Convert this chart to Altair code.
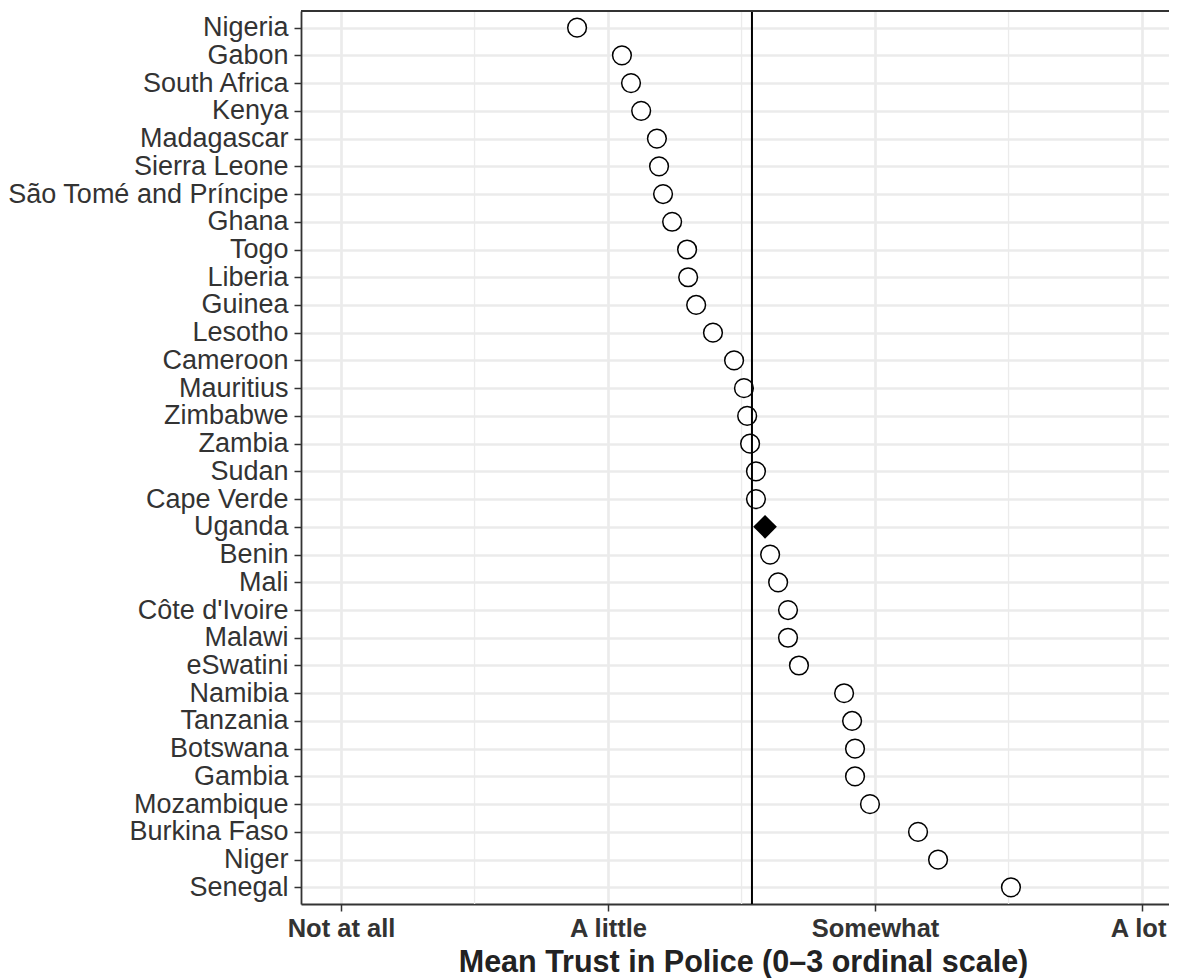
import altair as alt
import pandas as pd

countries = ["Nigeria", "Gabon", "South Africa", "Kenya", "Madagascar", "Sierra Leone",
             "São Tomé and Príncipe", "Ghana", "Togo", "Liberia", "Guinea", "Lesotho",
             "Cameroon", "Mauritius", "Zimbabwe", "Zambia", "Sudan", "Cape Verde", "Uganda",
             "Benin", "Mali", "Côte d'Ivoire", "Malawi", "eSwatini", "Namibia", "Tanzania",
             "Botswana", "Gambia", "Mozambique", "Burkina Faso", "Niger", "Senegal"]
trust = [0.884, 1.052, 1.086, 1.124, 1.183, 1.191, 1.206, 1.240, 1.296, 1.300, 1.330, 1.393,
         1.472, 1.509, 1.521, 1.532, 1.554, 1.554, 1.588, 1.607, 1.637, 1.674, 1.674, 1.715,
         1.884, 1.914, 1.925, 1.925, 1.981, 2.161, 2.236, 2.509]
highlight = ["Uganda"]
mean_line = [1.539]
tick_values = [0, 1, 2, 3]
tick_labels = ["Not at all", "A little", "Somewhat", "A lot"]
minor_ticks = [0.5, 1.5, 2.5]

FONT = "Liberation Sans"
W, H = 868, 893

df = pd.DataFrame({"country": countries, "trust": trust})
df["hl"] = df["country"].isin(highlight)

label_expr = "[" + ",".join("'" + t + "'" for t in tick_labels) + "][datum.value]"

xscale = alt.Scale(domain=[-0.15, -0.15 + W / 267.0], nice=False, zero=False)
yscale = alt.Scale(type="point", padding=0.6, domain=countries)

xaxis = alt.Axis(values=tick_values, labelExpr=label_expr, title="Mean Trust in Police (0–3 ordinal scale)",
                 grid=True, gridColor="#EBEBEB", gridWidth=2.7,
                 domainColor="#333333", domainWidth=1.8, tickColor="#333333", tickWidth=1.5, tickSize=7,
                 labelFont=FONT, labelFontSize=25.5, labelFontWeight="bold", labelColor="#333333",
                 labelBaseline="alphabetic", labelPadding=25, labelOverlap=False, labelBound=False,
                 labelOffset={"condition": {"test": "datum.value == 3", "value": -4}, "value": 0},
                 titleFont=FONT, titleFontSize=30.5, titleFontWeight="bold", titleColor="#222222",
                 titleBaseline="alphabetic", titleX=442, titleY=67, titleAlign="center", titleAnchor="start")
yaxis = alt.Axis(title=None, grid=True, gridColor="#EBEBEB", gridWidth=2.7,
                 domainColor="#333333", domainWidth=1.8, tickColor="#333333", tickWidth=1.5, tickSize=7,
                 labelFont=FONT, labelFontSize=27, labelColor="#333333", labelPadding=6, labelLimit=500)

base = alt.Chart(df)

minor = alt.Chart(pd.DataFrame({"m": minor_ticks})).mark_rule(color="#EBEBEB", strokeWidth=1.3).encode(
    x=alt.X("m:Q", scale=xscale, axis=xaxis)
)

circles = base.transform_filter("!datum.hl").mark_point(
    shape="circle", size=350, filled=False, fill="white", fillOpacity=1, stroke="black", strokeWidth=1.5, opacity=1
).encode(
    x=alt.X("trust:Q", scale=xscale, axis=xaxis),
    y=alt.Y("country:N", scale=yscale, sort=countries, axis=yaxis),
)

vline = alt.Chart(pd.DataFrame({"v": mean_line})).mark_rule(color="black", strokeWidth=2).encode(
    x=alt.X("v:Q", scale=xscale, axis=xaxis)
)

diamond = base.transform_filter("datum.hl").mark_point(
    shape="diamond", size=560, filled=True, color="black", opacity=1
).encode(
    x=alt.X("trust:Q", scale=xscale, axis=xaxis),
    y=alt.Y("country:N", scale=yscale, sort=countries, axis=yaxis),
)

top_border = alt.Chart(pd.DataFrame({"a": [0]})).mark_rule(color="#333333", strokeWidth=1.8).encode(
    x=alt.value(0), x2=alt.value(W), y=alt.value(0)
)

chart = alt.layer(minor, circles, vline, diamond, top_border).properties(
    width=W, height=H,
    padding={"left": 293, "top": 3, "right": 0, "bottom": 80},
    autosize="none",
).configure_view(stroke=None).configure(background="white")

chart.save("out.html", embed_options={"renderer": "svg", "actions": False})
